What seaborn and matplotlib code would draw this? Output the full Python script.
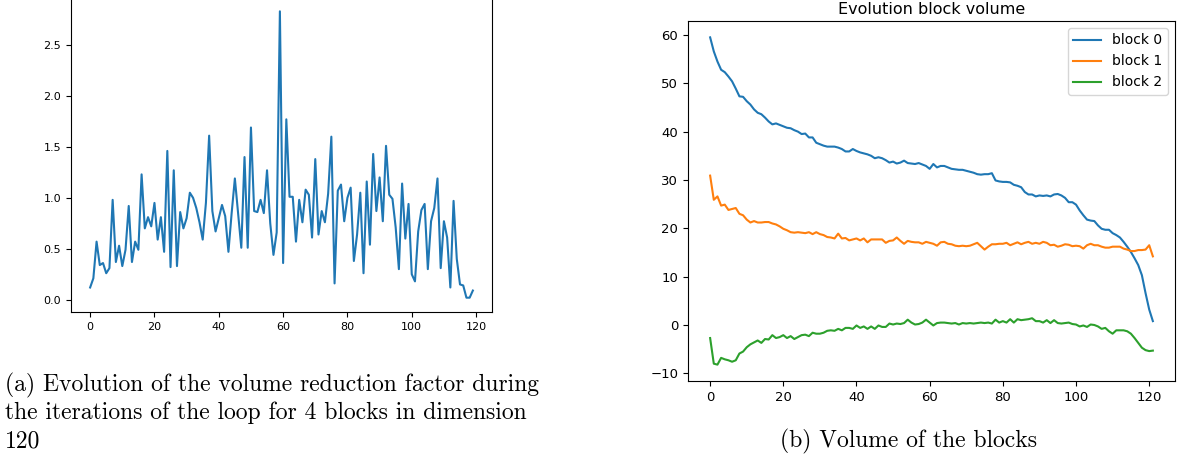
import matplotlib
matplotlib.use("Agg")
import matplotlib.pyplot as plt
import numpy as np
import pandas as pd
import seaborn as sns

# (a) volume reduction factor per iteration (0..119)
reduction = [0.12, 0.21, 0.57, 0.34, 0.36, 0.26, 0.31, 0.98, 0.37, 0.53,
             0.33, 0.49, 0.92, 0.37, 0.57, 0.49, 1.23, 0.70, 0.81, 0.72,
             0.95, 0.59, 0.81, 0.47, 1.46, 0.32, 1.27, 0.33, 0.86, 0.70,
             0.80, 1.05, 1.00, 0.90, 0.76, 0.59, 0.95, 1.61, 0.87, 0.67,
             0.80, 0.93, 0.82, 0.47, 0.85, 1.19, 0.85, 0.51, 1.40, 0.51,
             1.69, 0.87, 0.86, 0.98, 0.85, 1.27, 0.75, 0.44, 0.66, 2.83,
             0.36, 1.77, 1.01, 1.01, 0.57, 0.98, 0.76, 1.08, 1.03, 0.61,
             1.38, 0.64, 0.87, 0.76, 1.04, 1.60, 0.16, 1.07, 1.13, 0.77,
             1.00, 1.10, 0.38, 0.64, 1.05, 0.26, 1.16, 0.54, 1.43, 0.87,
             1.20, 0.77, 1.51, 1.03, 0.99, 0.71, 0.30, 1.14, 0.60, 0.94,
             0.25, 0.18, 0.67, 0.88, 0.94, 0.30, 0.77, 0.90, 1.19, 0.31,
             0.77, 0.61, 0.12, 0.97, 0.40, 0.15, 0.14, 0.02, 0.02, 0.09]

# (b) block volumes per iteration (0..121)
block0 = [59.5, 56.6, 54.5, 52.8, 52.3, 51.4, 50.4, 48.9, 47.3, 47.2,
          46.3, 45.6, 44.6, 43.9, 43.6, 42.9, 42.1, 41.5, 41.7, 41.4,
          41.1, 40.8, 40.7, 40.3, 40.0, 39.5, 39.6, 38.8, 38.8, 37.7,
          37.4, 37.1, 36.9, 36.9, 36.9, 36.7, 36.4, 35.9, 35.9, 36.4,
          36.0, 35.7, 35.5, 35.3, 35.0, 34.5, 34.7, 34.5, 34.1, 33.6,
          33.8, 33.4, 33.6, 34.0, 33.5, 33.4, 33.3, 33.5, 33.2, 32.9,
          32.3, 33.3, 32.6, 32.9, 32.9, 32.6, 32.3, 32.2, 32.1, 32.1,
          31.9, 31.7, 31.5, 31.2, 31.1, 31.2, 31.2, 31.4, 29.9, 29.7,
          29.6, 29.6, 29.5, 29.0, 28.8, 28.5, 27.5, 27.0, 27.0, 26.6,
          26.8, 26.7, 26.8, 26.6, 27.0, 27.1, 26.8, 26.3, 25.4, 25.4,
          24.9, 23.7, 22.7, 21.8, 21.6, 21.5, 20.6, 19.9, 19.7, 19.7,
          19.0, 18.6, 18.1, 17.2, 16.2, 15.1, 13.8, 12.4, 10.3, 6.6,
          3.2, 0.8]
block1 = [30.9, 25.9, 26.6, 24.7, 24.9, 23.8, 24.0, 24.2, 23.0, 22.7,
          21.8, 21.2, 21.5, 21.2, 21.2, 21.3, 21.3, 21.0, 20.8, 20.4,
          19.9, 19.6, 19.2, 19.1, 19.2, 19.1, 19.0, 19.2, 18.8, 19.2,
          18.8, 18.6, 18.2, 18.1, 17.9, 18.9, 17.9, 18.0, 17.5, 17.7,
          17.9, 17.5, 17.9, 17.1, 17.7, 17.7, 17.7, 17.7, 17.0, 17.4,
          17.5, 18.1, 17.4, 16.8, 17.4, 17.2, 17.1, 17.1, 16.8, 17.2,
          17.0, 16.8, 16.4, 17.1, 17.2, 16.8, 16.7, 16.4, 16.3, 16.4,
          16.3, 16.4, 16.7, 17.0, 16.3, 15.6, 16.2, 16.7, 16.7, 16.8,
          16.8, 17.0, 16.5, 16.8, 17.1, 16.7, 17.0, 17.2, 16.8, 17.0,
          16.8, 17.2, 17.0, 16.5, 16.6, 16.2, 16.4, 16.7, 16.6, 16.3,
          16.4, 16.3, 15.8, 16.5, 16.8, 16.5, 16.5, 16.2, 16.0, 16.0,
          16.2, 16.2, 16.2, 15.8, 15.6, 15.3, 15.3, 15.5, 15.5, 15.6,
          16.5, 14.2]
block2 = [-2.7, -8.0, -8.2, -6.8, -7.1, -7.3, -7.6, -7.3, -5.9, -5.5,
          -4.6, -4.0, -3.6, -3.2, -3.7, -2.9, -3.0, -2.1, -2.7, -2.5,
          -2.1, -2.7, -2.3, -2.9, -2.5, -2.1, -2.0, -2.3, -1.6, -1.8,
          -1.8, -1.6, -1.2, -1.1, -1.2, -0.8, -1.1, -0.6, -0.6, -0.8,
          -0.1, -0.6, -0.3, -0.8, -0.3, -0.8, -0.1, -0.4, -0.4, 0.3,
          0.1, 0.3, 0.2, 0.4, 1.1, 0.5, 0.1, 0.2, 0.5, 1.1,
          0.5, -0.1, 0.4, 0.5, 0.5, 0.4, 0.3, 0.4, 0.1, 0.4,
          0.3, 0.4, 0.3, 0.4, 0.5, 0.4, 0.5, 0.3, 1.1, 0.5,
          0.8, 0.5, 1.2, 0.5, 1.2, 1.0, 1.1, 1.2, 1.4, 0.8,
          0.8, 0.5, 1.0, 0.4, 1.0, 0.4, 0.3, 0.4, 0.5, 0.2,
          0.1, -0.3, -0.1, -0.4, 0.1, 0.0, -0.3, -0.8, -0.6, -1.3,
          -1.8, -1.1, -1.1, -1.1, -1.3, -1.8, -2.7, -3.7, -4.7, -5.2,
          -5.4, -5.3]

W, H = 1177, 461
fig = plt.figure(figsize=(W / 100, H / 100), dpi=100)


def px_axes(left, top, right, bottom):
    return fig.add_axes([left / W, 1 - bottom / H, (right - left) / W, (bottom - top) / H])


# left chart, top spine sits just above the crop
ax1 = px_axes(71, -3, 492, 312)
df_a = pd.DataFrame({"iteration": np.arange(len(reduction)), "factor": reduction})
sns.lineplot(data=df_a, x="iteration", y="factor", ax=ax1, color="tab:blue", linewidth=1.5)
ax1.set_xticks(range(0, 121, 20))
ax1.set_yticks([0.0, 0.5, 1.0, 1.5, 2.0, 2.5])
ax1.set_xlabel("")
ax1.set_ylabel("")
ax1.tick_params(labelsize=8)

# right chart
ax2 = px_axes(688, 21, 1175, 381)
rows = []
for name, vals in [("block 0", block0), ("block 1", block1), ("block 2", block2)]:
    for i, v in enumerate(vals):
        rows.append({"iteration": i, "volume": v, "block": name})
df_b = pd.DataFrame(rows)
sns.lineplot(data=df_b, x="iteration", y="volume", hue="block", ax=ax2,
             palette=["tab:blue", "tab:orange", "tab:green"], linewidth=1.5)
ax2.set_xticks(range(0, 121, 20))
ax2.set_yticks(range(-10, 61, 10))
ax2.set_xlabel("")
ax2.set_ylabel("")
ax2.tick_params(labelsize=9.5)
ax2.set_title("Evolution block volume", fontsize=11.5, pad=5)
ax2.legend(loc="upper right", fontsize=10, title=None)

# captions
cap = dict(fontfamily="cmr10", fontsize=17, va="baseline")
fig.text(5 / W, 1 - 391 / H, "(a) Evolution of the volume reduction factor during", **cap)
fig.text(5 / W, 1 - 419 / H, "the iterations of the loop for 4 blocks in dimension", **cap)
fig.text(5 / W, 1 - 447 / H, "120", **cap)
fig.text(909 / W, 1 - 447 / H, "(b) Volume of the blocks", ha="center", **cap)

fig.savefig("out.png", dpi=100)
